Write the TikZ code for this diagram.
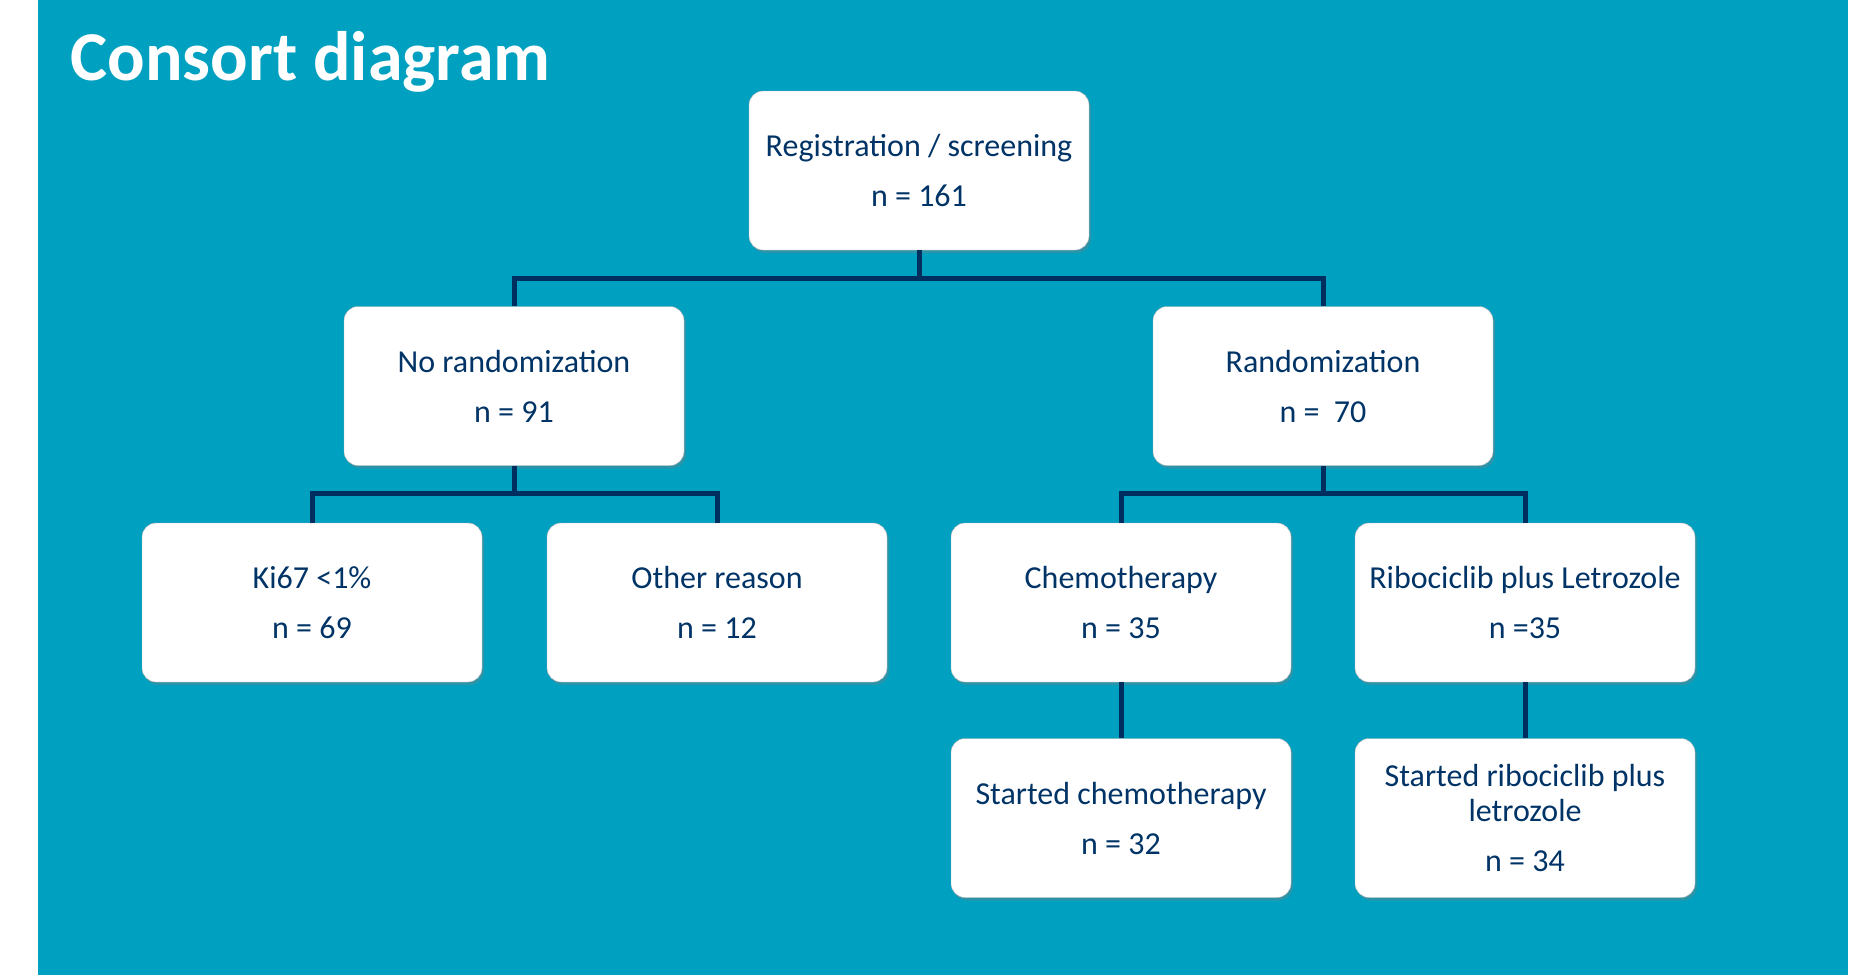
\documentclass[tikz,border=0pt]{standalone}
\usepackage{fontspec}
\setmainfont{Carlito}
\usetikzlibrary{shadows}
\definecolor{slide}{RGB}{0,160,192}
\definecolor{navy}{RGB}{0,51,102}
\definecolor{wire}{RGB}{0,47,95}
\begin{document}
\begin{tikzpicture}[x=1pt,y=-1pt]
				\tikzstyle{Box} = [rectangle, rounded corners=14, draw=gray!60, fill=white, text=navy, align=center, minimum width=340, minimum height=159, inner sep=0pt, font=\fontsize{32}{35}\selectfont, drop shadow={shadow xshift=2pt, shadow yshift=-3pt, opacity=0.35}]
				\tikzstyle{Wire} = [draw=wire, line width=5]
				\useasboundingbox (0,0) rectangle (1856,975);
				\fill[white] (0,0) rectangle (1856,975);
				\fill[slide] (38,0) rectangle (1848,975);
				\node (title) at (67,80) [anchor=base west, text=white, font=\fontsize{70}{80}\selectfont\bfseries] {Consort diagram};
				\node (1) at (919,170.5) [Box] {Registration / screening\\[15pt]n = 161};
				\node (2) at (514,386) [Box] {No randomization\\[15pt]n = 91};
				\node (3) at (1323,386) [Box] {Randomization\\[15pt]n = \ 70};
				\node (4) at (312,602.5) [Box] {Ki67 <1\%\\[15pt]n = 69};
				\node (5) at (717,602.5) [Box] {Other reason\\[15pt]n = 12};
				\node (6) at (1121,602.5) [Box] {Chemotherapy\\[15pt]n = 35};
				\node (7) at (1525,602.5) [Box] {Ribociclib plus Letrozole\\[15pt]n =35};
				\node (8) at (1121,818) [Box] {Started chemotherapy\\[15pt]n = 32};
				\node (9) at (1525,818) [Box] {Started ribociclib plus\\letrozole\\[15pt]n = 34};
				\coordinate (b1) at (919,278);
				\coordinate (b2) at (514,493);
				\coordinate (b3) at (1323,493);
				\draw [Wire] (1) to (b1);
				\draw [Wire] (2.north) |- (b1) -| (3.north);
				\draw [Wire] (2) to (b2);
				\draw [Wire] (4.north) |- (b2) -| (5.north);
				\draw [Wire] (3) to (b3);
				\draw [Wire] (6.north) |- (b3) -| (7.north);
				\draw [Wire] (6) to (8);
				\draw [Wire] (7) to (9);
			\end{tikzpicture}
\end{document}
